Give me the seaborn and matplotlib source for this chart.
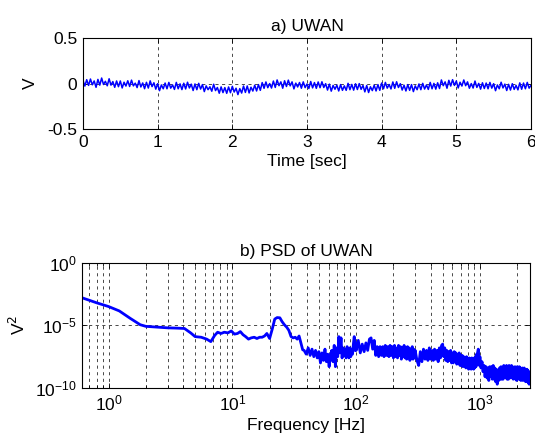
"""UWAN time record and its PSD
===========================
Two stacked panels, MATLAB look: time trace on top, log-log PSD below.
"""

import numpy as np
import seaborn as sns
from matplotlib import pyplot as plt
from matplotlib.ticker import LogLocator, NullFormatter, NullLocator

sns.set_theme(style="ticks")
plt.rcParams['font.family'] = ['Liberation Sans', 'DejaVu Sans']
plt.rcParams.update({
    'font.size': 12.5,
    'text.color': 'black',
    'axes.labelcolor': 'black',
    'axes.edgecolor': 'black',
    'axes.linewidth': 0.8,
    'xtick.direction': 'in',
    'ytick.direction': 'in',
    'xtick.top': True,
    'ytick.right': True,
    'xtick.color': 'black',
    'ytick.color': 'black',
    'xtick.labelsize': 12.5,
    'ytick.labelsize': 12.5,
    'axes.titlesize': 12.5,
    'axes.labelsize': 12.5,
})

###############################################################################
# a) UWAN record, one reading every 0.025 s (read off the figure)
uwan_v = [
    0.035, -0.028, 0.042, -0.021, 0.049, -0.014, 0.028, -0.042,
    0.045, -0.018, 0.060, -0.011, 0.024, -0.025, 0.052, -0.018,
    0.021, -0.042, 0.028, -0.035, 0.028, -0.049, 0.014, -0.028,
    0.030, -0.033, 0.037, -0.026, 0.004, -0.045, 0.032, -0.038,
    0.006, -0.057, 0.013, -0.050, 0.029, -0.034, 0.008, -0.062,
    -0.002, -0.079, -0.016, -0.058, 0.005, -0.058, 0.012, -0.051,
    -0.016, -0.065, 0.012, -0.058, -0.004, -0.067, 0.003, -0.060,
    0.014, -0.049, -0.007, -0.077, -0.005, -0.068, 0.002, -0.061,
    -0.012, -0.089, -0.026, -0.068, -0.036, -0.085, -0.008, -0.078,
    -0.044, -0.107, -0.037, -0.100, -0.045, -0.108, -0.038, -0.101,
    -0.031, -0.094, -0.052, -0.122, -0.056, -0.105, -0.028, -0.098,
    -0.027, -0.104, -0.041, -0.083, -0.019, -0.082, -0.012, -0.075,
    0.010, -0.053, 0.017, -0.046, -0.001, -0.050, 0.027, -0.043,
    0.039, -0.024, 0.018, -0.052, 0.030, -0.033, 0.037, -0.026,
    0.018, -0.059, 0.004, -0.038, 0.011, -0.052, 0.018, -0.045,
    -0.006, -0.055, 0.022, -0.048, 0.010, -0.053, 0.017, -0.046,
    0.019, -0.044, -0.002, -0.072, -0.007, -0.084, -0.021, -0.063,
    -0.019, -0.082, -0.012, -0.075, -0.026, -0.075, 0.002, -0.068,
    -0.010, -0.073, -0.003, -0.066, -0.001, -0.064, -0.022, -0.092,
    -0.022, -0.099, -0.036, -0.078, -0.019, -0.082, -0.012, -0.075,
    0.005, -0.058, 0.012, -0.051, -0.011, -0.060, 0.017, -0.053,
    0.019, -0.044, -0.002, -0.072, -0.019, -0.082, -0.012, -0.075,
    -0.012, -0.089, -0.026, -0.068, -0.005, -0.068, 0.002, -0.061,
    -0.016, -0.065, 0.012, -0.058, 0.001, -0.062, 0.008, -0.055,
    0.039, -0.024, 0.018, -0.052, 0.035, -0.028, 0.042, -0.021,
    0.028, -0.049, 0.014, -0.028, 0.039, -0.024, 0.018, -0.052,
    -0.001, -0.050, 0.027, -0.043, 0.001, -0.062, 0.008, -0.055,
    0.005, -0.058, 0.012, -0.051, -0.002, -0.079, -0.016, -0.058,
    0.014, -0.049, -0.007, -0.077, -0.009, -0.072, -0.002, -0.065,
    -0.021, -0.070, 0.007, -0.063, 0.005, -0.058, 0.012, -0.051,
    -0.020,
]
uwan_t = np.linspace(0, 6, len(uwan_v))

###############################################################################
# b) PSD, stored as log10(V^2)
# smooth low-frequency part
psd_f_low = [0.61, 0.8, 1.0, 1.22, 1.5, 1.8, 2.0, 2.5, 3.0, 3.5,
             4.1, 4.6, 5.0, 5.6, 6.2, 6.7, 7.2, 7.6, 8.1, 8.6,
             9.2, 9.8, 10.4, 11.0, 11.6, 12.2, 12.8, 13.5, 14.2, 15.0,
             15.8, 16.6, 17.4, 18.2, 19.0, 20.0, 21.0, 22.0, 23.0, 24.2,
             25.2, 26.3, 27.5, 28.6, 29.8, 31.0, 32.2, 33.4, 34.6, 35.8,
             37.0]
psd_low = [-2.80, -3.20, -3.50, -3.85, -4.45, -4.95, -5.08, -5.15, -5.20, -5.22,
           -5.25, -5.60, -5.90, -5.95, -6.10, -6.30, -5.80, -5.55, -5.65, -5.55,
           -5.60, -5.45, -5.70, -5.65, -5.50, -5.75, -5.90, -6.10, -6.00, -5.95,
           -6.05, -5.95, -5.95, -5.85, -5.65, -6.05, -5.30, -4.50, -4.38, -4.40,
           -4.70, -4.95, -5.15, -5.40, -5.90, -6.00, -5.95, -6.10, -5.85, -6.40,
           -6.95]

# noisy part, on the bin grids 38-100 (1.5 Hz), 100-300 (4 Hz),
# 300-1000 (10 Hz), 1000-2540 (20 Hz)
psd_a = [-7.0, -7.3, -6.8, -7.4, -6.9, -7.5, -7.0, -7.6, -7.1, -8.0,
         -7.2, -7.8, -6.9, -7.9, -7.3, -8.3, -7.4, -7.0, -7.9, -6.6,
         -8.3, -6.8, -7.5, -5.9, -7.2, -6.0, -7.6, -6.8, -7.4, -6.9,
         -7.6, -6.7, -7.3, -7.6, -6.8, -7.5, -6.9, -7.3, -6.5, -5.9,
         -7.0, -6.4]
psd_b = [-7.0, -6.2, -7.2, -6.5, -7.1, -6.4, -7.0, -6.1, -6.0, -6.9,
         -6.2, -7.4, -6.7, -7.5, -6.7, -7.4, -6.7, -7.5, -6.6, -7.4,
         -6.7, -7.5, -6.6, -7.4, -6.7, -7.6, -6.6, -7.5, -6.8, -7.6,
         -6.6, -7.4, -6.7, -7.7, -6.8, -7.5, -6.6, -7.6, -6.8, -7.7,
         -6.7, -7.5, -6.8, -7.8, -6.9, -7.6, -6.7, -7.7, -6.9, -7.6]
psd_c = [-7.0, -7.8, -8.2, -7.1, -7.9, -6.9, -7.7, -7.0, -7.8, -6.8,
         -7.7, -7.0, -7.8, -6.9, -7.7, -7.0, -7.9, -6.8, -7.6, -6.6,
         -6.5, -7.5, -6.8, -7.8, -7.0, -7.9, -7.1, -7.8, -7.0, -8.0,
         -7.2, -8.0, -7.1, -7.9, -7.2, -8.1, -7.3, -8.0, -7.2, -8.2,
         -7.4, -8.2, -7.4, -8.3, -7.5, -8.2, -7.6, -8.4, -7.5, -8.3,
         -7.7, -8.5, -7.6, -8.4, -7.7, -8.5, -7.6, -8.4, -7.7, -8.5,
         -7.6, -8.4, -7.5, -8.3, -7.3, -8.1, -7.1, -6.9, -7.6, -8.2]
psd_d = [-7.5, -8.4, -7.9, -8.7, -8.2, -9.1, -8.3, -9.2, -8.4, -9.4,
         -8.3, -9.1, -8.3, -9.3, -8.2, -9.3, -8.4, -9.5, -8.5, -9.7,
         -8.6, -9.4, -8.4, -9.3, -8.3, -9.3, -8.4, -9.3, -8.2, -9.1,
         -8.3, -9.2, -8.2, -9.3, -8.3, -9.3, -8.2, -9.1, -8.3, -9.2,
         -8.2, -9.1, -8.3, -9.3, -8.4, -9.2, -8.3, -9.3, -8.4, -9.4,
         -8.3, -9.2, -8.4, -9.3, -8.3, -9.2, -8.4, -9.4, -8.5, -9.3,
         -8.4, -9.4, -8.5, -9.3, -8.4, -9.4, -8.5, -9.5, -8.6, -9.4,
         -8.5, -9.5, -8.6, -9.6, -8.7, -9.7, -8.8, -9.6]

psd_f = np.concatenate([psd_f_low,
                        np.arange(38, 100, 1.5),
                        np.arange(100, 300, 4),
                        np.arange(300, 1000, 10),
                        np.arange(1000, 2541, 20)])
psd_v = 10.0 ** np.concatenate([psd_low, psd_a, psd_b, psd_c, psd_d])

###############################################################################
fig = plt.figure(figsize=(5.35, 4.45), dpi=100)
ax1 = fig.add_axes([0.1551, 0.7101, 0.8374, 0.2045])
ax2 = fig.add_axes([0.1533, 0.1281, 0.8374, 0.2816])

grid_kw = dict(color='black', linewidth=0.5, linestyle=(0, (4.5, 5)))

# top panel
sns.lineplot(x=uwan_t, y=uwan_v, ax=ax1, color='blue', linewidth=1.1,
             estimator=None)
ax1.set_xlim(0, 6)
ax1.set_ylim(-0.5, 0.5)
ax1.set_xticks(range(7))
ax1.set_yticks([-0.5, 0, 0.5])
ax1.set_yticklabels(['-0.5', '0', '0.5'])
ax1.grid(True, **grid_kw)
ax1.set_title("a) UWAN", pad=5)
ax1.set_xlabel("Time [sec]", labelpad=3)
ax1.set_ylabel("V", labelpad=7)

# bottom panel
sns.lineplot(x=psd_f, y=psd_v, ax=ax2, color='blue', linewidth=2.0,
             estimator=None)
ax2.set_xscale('log')
ax2.set_yscale('log')
ax2.set_xlim(0.61, 2540)
ax2.set_ylim(1e-10, 1)
ax2.xaxis.set_major_locator(LogLocator(base=10))
ax2.xaxis.set_minor_locator(LogLocator(base=10, subs=np.arange(2, 10)))
ax2.xaxis.set_minor_formatter(NullFormatter())
ax2.set_yticks([1e-10, 1e-5, 1])
ax2.yaxis.set_minor_locator(NullLocator())
ax2.grid(True, which='both', axis='x', **grid_kw)
ax2.grid(True, which='major', axis='y', **grid_kw)
ax2.set_title("b) PSD of UWAN", pad=5)
ax2.set_xlabel("Frequency [Hz]", labelpad=3)
ax2.set_ylabel("V$^2$", labelpad=5)

for ax in (ax1, ax2):
    ax.tick_params(which='major', length=3.5, width=0.6, pad=4)
    ax.tick_params(which='minor', length=2, width=0.6)
    ax.set_axisbelow(True)
    for s in ax.spines.values():
        s.set_visible(True)
        s.set_color('black')

fig.savefig("out.png", dpi=100)
